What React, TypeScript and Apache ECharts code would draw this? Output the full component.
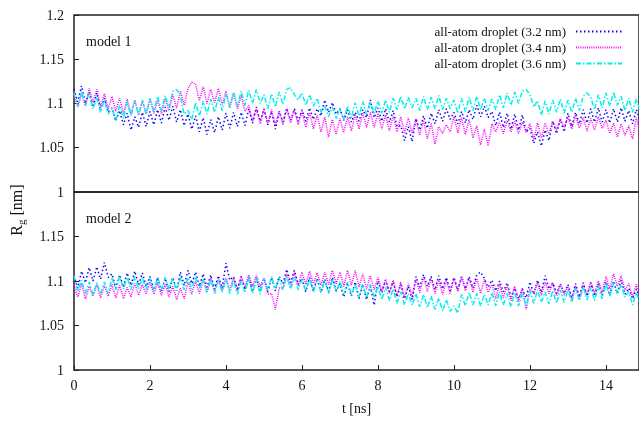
import React, { useEffect, useRef } from "react";
import * as echarts from "echarts";

const SERIES_NAMES = [
  "all-atom droplet (3.2 nm)",
  "all-atom droplet (3.4 nm)",
  "all-atom droplet (3.6 nm)",
];
const SERIES_COLORS = ["#0a0af0", "#ff00ff", "#00f0f0"];
const T_STEP = 0.1; // ns between samples
const X_TICKS = [0, 2, 4, 6, 8, 10, 12, 14];
const Y_TICKS = [1, 1.05, 1.1, 1.15, 1.2];

// model 1 (top panel)
const m1_32 = [
  1.116, 1.102, 1.120, 1.100, 1.113, 1.096, 1.112, 1.092, 1.106, 1.090,
  1.095, 1.080, 1.092, 1.076, 1.089, 1.070, 1.085, 1.073, 1.090, 1.074,
  1.091, 1.076, 1.093, 1.078, 1.096, 1.081, 1.097, 1.079, 1.093, 1.075,
  1.088, 1.071, 1.086, 1.068, 1.084, 1.065, 1.082, 1.067, 1.085, 1.070,
  1.089, 1.072, 1.090, 1.074, 1.090, 1.075, 1.094, 1.078, 1.096, 1.080,
  1.094, 1.076, 1.091, 1.071, 1.090, 1.079, 1.095, 1.081, 1.094, 1.080,
  1.093, 1.080, 1.095, 1.082, 1.094, 1.086, 1.104, 1.090, 1.101, 1.088,
  1.094, 1.081, 1.093, 1.079, 1.090, 1.080, 1.093, 1.084, 1.104, 1.084,
  1.095, 1.080, 1.094, 1.079, 1.092, 1.074, 1.075, 1.058, 1.074, 1.057,
  1.083, 1.070, 1.086, 1.072, 1.089, 1.077, 1.093, 1.080, 1.094, 1.082,
  1.090, 1.077, 1.091, 1.078, 1.093, 1.082, 1.098, 1.085, 1.097, 1.084,
  1.091, 1.075, 1.090, 1.073, 1.089, 1.071, 1.088, 1.070, 1.087, 1.068,
  1.072, 1.055, 1.068, 1.052, 1.070, 1.058, 1.080, 1.066, 1.082, 1.068,
  1.089, 1.074, 1.090, 1.077, 1.093, 1.078, 1.094, 1.079, 1.095, 1.079,
  1.093, 1.078, 1.094, 1.079, 1.095, 1.080, 1.092, 1.077, 1.093, 1.080,
];
const m1_34 = [
  1.110, 1.096, 1.111, 1.097, 1.117, 1.101, 1.116, 1.097, 1.111, 1.094,
  1.108, 1.091, 1.106, 1.089, 1.105, 1.088, 1.104, 1.087, 1.103, 1.088,
  1.105, 1.089, 1.104, 1.088, 1.106, 1.092, 1.110, 1.095, 1.114, 1.098,
  1.117, 1.124, 1.122, 1.103, 1.119, 1.100, 1.116, 1.101, 1.117, 1.099,
  1.114, 1.096, 1.112, 1.094, 1.109, 1.091, 1.098, 1.080, 1.094, 1.077,
  1.094, 1.077, 1.093, 1.075, 1.092, 1.076, 1.094, 1.078, 1.093, 1.076,
  1.091, 1.073, 1.090, 1.071, 1.087, 1.068, 1.085, 1.062, 1.082, 1.065,
  1.083, 1.067, 1.085, 1.069, 1.088, 1.071, 1.089, 1.073, 1.090, 1.073,
  1.089, 1.071, 1.087, 1.069, 1.086, 1.068, 1.085, 1.067, 1.084, 1.066,
  1.083, 1.064, 1.081, 1.060, 1.078, 1.054, 1.074, 1.066, 1.076, 1.068,
  1.085, 1.067, 1.084, 1.065, 1.082, 1.061, 1.075, 1.053, 1.071, 1.052,
  1.077, 1.068, 1.079, 1.066, 1.081, 1.068, 1.080, 1.066, 1.079, 1.067,
  1.077, 1.060, 1.078, 1.061, 1.078, 1.066, 1.080, 1.070, 1.083, 1.073,
  1.085, 1.071, 1.087, 1.072, 1.084, 1.069, 1.083, 1.070, 1.085, 1.072,
  1.081, 1.066, 1.078, 1.062, 1.077, 1.064, 1.075, 1.060, 1.084, 1.066,
];
const m1_36 = [
  1.112, 1.097, 1.114, 1.098, 1.111, 1.094, 1.107, 1.090, 1.104, 1.088,
  1.095, 1.081, 1.098, 1.083, 1.102, 1.086, 1.103, 1.087, 1.104, 1.088,
  1.106, 1.091, 1.108, 1.092, 1.109, 1.095, 1.114, 1.116, 1.108, 1.088,
  1.092, 1.082, 1.101, 1.086, 1.103, 1.088, 1.105, 1.090, 1.107, 1.092,
  1.111, 1.095, 1.113, 1.097, 1.114, 1.098, 1.115, 1.100, 1.116, 1.100,
  1.110, 1.094, 1.111, 1.096, 1.113, 1.099, 1.116, 1.118, 1.110, 1.104,
  1.112, 1.098, 1.110, 1.097, 1.106, 1.090, 1.097, 1.085, 1.096, 1.083,
  1.094, 1.082, 1.097, 1.084, 1.101, 1.086, 1.103, 1.088, 1.102, 1.089,
  1.103, 1.089, 1.104, 1.090, 1.106, 1.093, 1.108, 1.094, 1.107, 1.095,
  1.106, 1.092, 1.108, 1.093, 1.107, 1.094, 1.109, 1.093, 1.106, 1.094,
  1.104, 1.089, 1.106, 1.091, 1.107, 1.092, 1.108, 1.093, 1.106, 1.092,
  1.105, 1.093, 1.110, 1.095, 1.112, 1.098, 1.113, 1.100, 1.114, 1.116,
  1.110, 1.096, 1.103, 1.087, 1.103, 1.088, 1.104, 1.090, 1.105, 1.089,
  1.104, 1.090, 1.106, 1.092, 1.108, 1.112, 1.107, 1.093, 1.110, 1.095,
  1.112, 1.097, 1.113, 1.098, 1.108, 1.092, 1.106, 1.090, 1.105, 1.091,
];

// model 2 (bottom panel)
const m2_32 = [
  1.106, 1.092, 1.111, 1.098, 1.115, 1.100, 1.116, 1.102, 1.121, 1.104,
  1.108, 1.092, 1.107, 1.093, 1.109, 1.095, 1.111, 1.096, 1.109, 1.094,
  1.105, 1.090, 1.104, 1.089, 1.103, 1.088, 1.104, 1.089, 1.110, 1.095,
  1.112, 1.097, 1.110, 1.094, 1.108, 1.093, 1.107, 1.091, 1.106, 1.092,
  1.120, 1.101, 1.105, 1.089, 1.105, 1.090, 1.104, 1.088, 1.103, 1.089,
  1.103, 1.088, 1.104, 1.089, 1.105, 1.097, 1.113, 1.098, 1.112, 1.096,
  1.103, 1.088, 1.104, 1.089, 1.103, 1.087, 1.102, 1.088, 1.104, 1.089,
  1.097, 1.082, 1.098, 1.083, 1.099, 1.080, 1.096, 1.079, 1.094, 1.073,
  1.100, 1.087, 1.101, 1.088, 1.099, 1.082, 1.096, 1.080, 1.094, 1.079,
  1.105, 1.093, 1.107, 1.094, 1.105, 1.090, 1.106, 1.091, 1.104, 1.089,
  1.104, 1.090, 1.105, 1.091, 1.105, 1.092, 1.107, 1.110, 1.103, 1.093,
  1.101, 1.089, 1.100, 1.088, 1.098, 1.082, 1.092, 1.080, 1.091, 1.081,
  1.099, 1.085, 1.101, 1.087, 1.106, 1.091, 1.098, 1.086, 1.097, 1.086,
  1.096, 1.081, 1.097, 1.082, 1.098, 1.083, 1.098, 1.083, 1.097, 1.084,
  1.099, 1.084, 1.100, 1.086, 1.101, 1.085, 1.092, 1.080, 1.091, 1.081,
];
const m2_34 = [
  1.095, 1.082, 1.097, 1.080, 1.094, 1.083, 1.096, 1.081, 1.095, 1.083,
  1.096, 1.081, 1.095, 1.080, 1.093, 1.082, 1.097, 1.084, 1.096, 1.085,
  1.099, 1.085, 1.098, 1.084, 1.096, 1.082, 1.094, 1.079, 1.092, 1.080,
  1.099, 1.085, 1.100, 1.086, 1.101, 1.088, 1.103, 1.089, 1.102, 1.090,
  1.103, 1.090, 1.104, 1.091, 1.105, 1.093, 1.107, 1.094, 1.106, 1.094,
  1.103, 1.085, 1.086, 1.068, 1.092, 1.092, 1.108, 1.093, 1.109, 1.095,
  1.110, 1.096, 1.111, 1.097, 1.109, 1.095, 1.110, 1.096, 1.112, 1.097,
  1.110, 1.094, 1.112, 1.095, 1.112, 1.093, 1.108, 1.091, 1.106, 1.090,
  1.104, 1.088, 1.102, 1.086, 1.101, 1.083, 1.099, 1.081, 1.097, 1.082,
  1.102, 1.087, 1.104, 1.088, 1.103, 1.086, 1.101, 1.085, 1.101, 1.086,
  1.103, 1.088, 1.105, 1.089, 1.104, 1.087, 1.103, 1.086, 1.102, 1.087,
  1.096, 1.080, 1.097, 1.081, 1.095, 1.078, 1.094, 1.077, 1.092, 1.068,
  1.091, 1.086, 1.098, 1.084, 1.099, 1.086, 1.098, 1.083, 1.096, 1.084,
  1.094, 1.079, 1.095, 1.080, 1.096, 1.085, 1.099, 1.086, 1.100, 1.087,
  1.105, 1.091, 1.108, 1.094, 1.106, 1.090, 1.097, 1.082, 1.096, 1.083,
];
const m2_36 = [
  1.106, 1.088, 1.101, 1.086, 1.099, 1.084, 1.098, 1.085, 1.099, 1.086,
  1.104, 1.090, 1.105, 1.091, 1.104, 1.090, 1.105, 1.091, 1.104, 1.090,
  1.103, 1.089, 1.104, 1.090, 1.104, 1.091, 1.103, 1.089, 1.104, 1.090,
  1.104, 1.091, 1.105, 1.092, 1.102, 1.087, 1.102, 1.086, 1.101, 1.087,
  1.102, 1.086, 1.101, 1.085, 1.100, 1.087, 1.104, 1.086, 1.103, 1.085,
  1.103, 1.090, 1.105, 1.091, 1.104, 1.090, 1.105, 1.091, 1.104, 1.090,
  1.102, 1.089, 1.103, 1.088, 1.101, 1.087, 1.101, 1.086, 1.102, 1.088,
  1.100, 1.085, 1.099, 1.084, 1.097, 1.082, 1.097, 1.081, 1.096, 1.082,
  1.094, 1.079, 1.093, 1.078, 1.091, 1.075, 1.088, 1.073, 1.086, 1.073,
  1.086, 1.071, 1.085, 1.070, 1.083, 1.068, 1.081, 1.066, 1.079, 1.066,
  1.072, 1.064, 1.085, 1.072, 1.087, 1.073, 1.086, 1.072, 1.085, 1.073,
  1.087, 1.072, 1.088, 1.073, 1.086, 1.071, 1.087, 1.072, 1.086, 1.072,
  1.089, 1.075, 1.090, 1.076, 1.088, 1.074, 1.089, 1.075, 1.090, 1.076,
  1.090, 1.076, 1.092, 1.078, 1.093, 1.079, 1.093, 1.078, 1.094, 1.080,
  1.097, 1.083, 1.098, 1.085, 1.096, 1.082, 1.088, 1.073, 1.087, 1.074,
];

const PANEL_LABELS = ["model 1", "model 2"];
const X_NAME = "t [ns]";

const FONT = "'Liberation Serif', 'DejaVu Serif', serif";
const INK = "#111";

export default function App() {
  const ref = useRef<HTMLDivElement>(null);
  useEffect(() => {
    if (!ref.current) return;
    const chart = echarts.init(ref.current, undefined, { renderer: "svg" });
    const toPairs = (vals: number[]) =>
      vals.map((v, i) => [Math.round(i * T_STEP * 10) / 10, v]);
    const dashes: any[] = [[1.5, 2.5], [1, 1.2], [5, 2, 1.5, 2]];
    const panels = [
      [m1_32, m1_34, m1_36],
      [m2_32, m2_34, m2_36],
    ];
    const series: any[] = [];
    panels.forEach((sets, p) => {
      sets.forEach((vals, k) => {
        series.push({
          type: "line",
          name: SERIES_NAMES[k],
          xAxisIndex: p,
          yAxisIndex: p,
          data: toPairs(vals),
          symbol: "none",
          showSymbol: false,
          silent: true,
          lineStyle: { color: SERIES_COLORS[k], width: 1.5, type: dashes[k] },
          itemStyle: { color: SERIES_COLORS[k] },
        });
      });
    });
    const xMin = X_TICKS[0];
    const xMax = 14.87;
    const yMin = Y_TICKS[0];
    const yMax = Y_TICKS[Y_TICKS.length - 1];
    const common = {
      borderColor: "#222",
      borderWidth: 1.5,
      show: true,
      backgroundColor: "transparent",
    };
    chart.setOption({
      animation: false,
      textStyle: { fontFamily: FONT },
      grid: [
        { left: 74, top: 15, width: 565, height: 177, ...common },
        { left: 74, top: 192, width: 565, height: 178, ...common },
      ],
      xAxis: [0, 1].map((i) => ({
        type: "value",
        gridIndex: i,
        min: xMin,
        max: xMax,
        interval: 2,
        splitLine: { show: false },
        axisLine: { show: false },
        axisTick: {
          show: i === 1,
          inside: true,
          length: 5,
          lineStyle: { color: "#222", width: 1 },
        },
        axisLabel: {
          show: i === 1,
          showMaxLabel: false,
          margin: 8,
          color: INK,
          fontFamily: FONT,
          fontSize: 14,
        },
        name: i === 1 ? X_NAME : "",
        nameLocation: "middle",
        nameGap: 31,
        nameTextStyle: { color: INK, fontFamily: FONT, fontSize: 14 },
      })),
      yAxis: [0, 1].map((i) => ({
        type: "value",
        gridIndex: i,
        min: yMin,
        max: yMax,
        interval: 0.05,
        splitLine: { show: false },
        axisLine: { show: false },
        axisTick: {
          show: true,
          inside: true,
          length: 5,
          lineStyle: { color: "#222", width: 1 },
        },
        axisLabel: {
          showMaxLabel: i === 0,
          margin: 10,
          color: INK,
          fontFamily: FONT,
          fontSize: 14,
        },
      })),
      legend: {
        data: SERIES_NAMES,
        orient: "vertical",
        right: 11,
        top: 20,
        align: "right",
        itemWidth: 46,
        itemHeight: 14,
        itemGap: 3,
        selectedMode: false,
        itemStyle: { opacity: 0 },
        textStyle: {
          color: INK,
          fontFamily: FONT,
          fontSize: 13,
          padding: [0, 5, 0, 0],
        },
      },
      graphic: [
        {
          type: "text",
          left: 86,
          top: 34,
          style: { text: PANEL_LABELS[0], fill: INK, font: `14px ${FONT}` },
        },
        {
          type: "text",
          left: 86,
          top: 211,
          style: { text: PANEL_LABELS[1], fill: INK, font: `14px ${FONT}` },
        },
        {
          type: "text",
          x: 16,
          y: 210,
          rotation: Math.PI / 2,
          style: {
            text: "{a|R}{b|g}{a| [nm]}",
            align: "center",
            verticalAlign: "middle",
            fill: INK,
            rich: {
              a: {
                fontFamily: FONT,
                fontSize: 16,
                lineHeight: 20,
                fill: INK,
                color: INK,
              },
              b: {
                fontFamily: FONT,
                fontSize: 11,
                lineHeight: 8,
                verticalAlign: "bottom",
                fill: INK,
                color: INK,
              },
            },
          },
        },
      ],
      series,
    });
    return () => chart.dispose();
  }, []);
  return (
    <div
      ref={ref}
      style={{ position: "fixed", left: 0, top: 0, width: 639, height: 426 }}
    />
  );
}
